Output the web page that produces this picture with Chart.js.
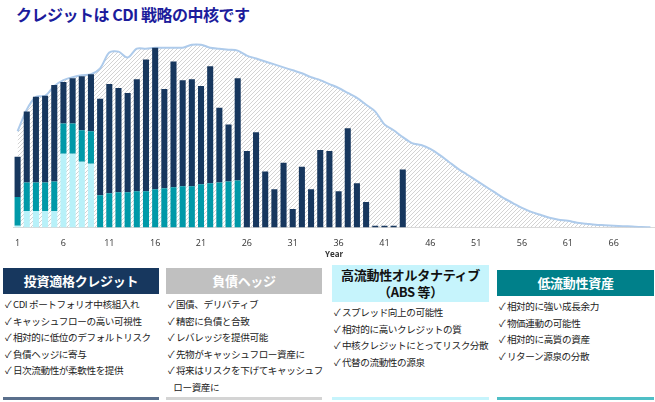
<!DOCTYPE html>
<html><head><meta charset="utf-8">
<script src="https://cdn.jsdelivr.net/npm/chart.js@4"></script>
<style>
body{margin:0;width:655px;height:402px;overflow:hidden;background:#fff;font-family:"Noto Sans CJK JP",sans-serif;position:relative}
#title{position:absolute;left:16px;top:2px;font-size:16px;font-weight:bold;color:#1c1c9c;letter-spacing:-0.5px}
#wrap{position:absolute;left:0;top:30px;width:655px;height:234px}
.box{position:absolute;top:268px;height:134px}
.hd{height:26px;line-height:26px;text-align:center;font-weight:bold;font-size:13px;letter-spacing:-0.3px}
.box ul{list-style:none;margin:2px 0 0 2px;padding:0;font-size:9.6px;line-height:16.5px;color:#222;letter-spacing:-0.4px;white-space:nowrap}
.box li:before{content:"✓ ";}
.bot{position:absolute;bottom:2px;left:0;right:0;height:3px}
</style></head><body>
<div id="title">クレジットは CDI 戦略の中核です</div>
<div id="wrap"><canvas id="c"></canvas></div>
<div class="box" style="left:3px;width:156px"><div class="hd" style="background:#17375e;color:#fff">投資適格クレジット</div>
<ul><li>CDI ポートフォリオ中核組入れ</li><li>キャッシュフローの高い可視性</li><li>相対的に低位のデフォルトリスク</li><li>負債ヘッジに寄与</li><li>日次流動性が柔軟性を提供</li></ul><div class="bot" style="background:#5a6f8c"></div></div>
<div class="box" style="left:166px;width:156px"><div class="hd" style="background:#c0c0c0;color:#fff">負債ヘッジ</div>
<ul><li>国債、デリバティブ</li><li>精密に負債と合致</li><li>レバレッジを提供可能</li><li>先物がキャッシュフロー資産に</li><li>将来はリスクを下げてキャッシュフ<br>&nbsp;&nbsp;&nbsp;ロー資産に</li></ul><div class="bot" style="background:#d4d4d4"></div></div>
<div class="box" style="left:332px;width:157px;top:265px;height:137px"><div class="hd" style="background:#c6f4fc;color:#111;height:36px;line-height:17px;padding-top:1px">高流動性オルタナティブ<br>（ABS 等）</div>
<ul><li>スプレッド向上の可能性</li><li>相対的に高いクレジットの質</li><li>中核クレジットにとってリスク分散</li><li>代替の流動性の源泉</li></ul><div class="bot" style="background:#c6f4fc"></div></div>
<div class="box" style="left:497px;width:157px;top:270px;height:132px"><div class="hd" style="background:#00808a;color:#fff">低流動性資産</div>
<ul><li>相対的に強い成長余力</li><li>物価連動の可能性</li><li>相対的に高質の資産</li><li>リターン源泉の分散</li></ul><div class="bot" style="background:#4fbfc6"></div></div>
<script>
const years = Array.from({length: 70}, (_, i) => String(i + 1));
// stacked bar segments (bottom to top)
const lightPart = [2,17,17,17,17,75,75,67,65,0];
const tealPart = [29,29,29,29,30,31,31,32,33,33,35,36,36,37,37,39,40,41,42,42,44,45,46,47,48];
const navyPart = [41,72,87,88,98,42,46,55,58,98,111,106,101,114,134,144,101,128,108,109,100,119,76,58,104,
  78,97,57,39,66,19,62,39,79,78,37,101,45,26,2,2,2,59];
const curve = [98,120,133,134,144,150,153,155,156,162,178,179,173,182,182,183,183,183,183,186,186,183,182,181,180,
  175,172,169,166,163,160,157,153,150,146,142,137,132,125,118,105,99,92,86,84,80,74,67,60,54,
  48,42,36,30,25,20,16,13,10,8,7,5,4,3,2.5,2,1.5,1,0.5,0.3];

const pc = document.createElement('canvas');
pc.width = 4; pc.height = 4;
const px = pc.getContext('2d');
px.strokeStyle = '#c8c8c8'; px.lineWidth = 0.8;
px.beginPath(); px.moveTo(0, 4); px.lineTo(4, 0); px.moveTo(-1, 1); px.lineTo(1, -1); px.moveTo(3, 5); px.lineTo(5, 3); px.stroke();
const hatch = px.createPattern(pc, 'repeat');

new Chart(document.getElementById('c'), {
  data: {
    labels: years,
    datasets: [
      { type: 'bar', data: lightPart, backgroundColor: '#b8f1f9', stack: 's', order: 1, barPercentage: 0.66, categoryPercentage: 1 },
      { type: 'bar', data: tealPart, backgroundColor: '#0099a8', stack: 's', order: 1, barPercentage: 0.66, categoryPercentage: 1 },
      { type: 'bar', data: navyPart, backgroundColor: '#17375e', stack: 's', order: 1, barPercentage: 0.66, categoryPercentage: 1 },
      { type: 'line', data: curve, borderColor: '#aecbeb', borderWidth: 2, backgroundColor: hatch, fill: 'origin', pointRadius: 0, tension: 0.3, order: 2 }
    ]
  },
  options: {
    responsive: true, maintainAspectRatio: false, animation: false,
    layout: { padding: { left: 13, right: 0, top: 0, bottom: 0 } },
    plugins: { legend: { display: false }, tooltip: { enabled: false } },
    scales: {
      x: {
        stacked: true,
        grid: { display: false, drawTicks: true },
        border: { color: '#d9d9d9' },
        title: { display: true, text: 'Year', color: '#333', font: { size: 8, weight: 'bold', family: 'Open Sans' }, padding: { top: 0 } },
        ticks: { autoSkip: false, maxRotation: 0, color: '#333', font: { size: 9, family: 'Open Sans' }, padding: 2,
          callback: (v, i) => (i % 5 === 0 ? years[i] : '') }
      },
      y: { stacked: true, display: false, min: 0, max: 201 }
    }
  }
});
</script>
</body></html>
